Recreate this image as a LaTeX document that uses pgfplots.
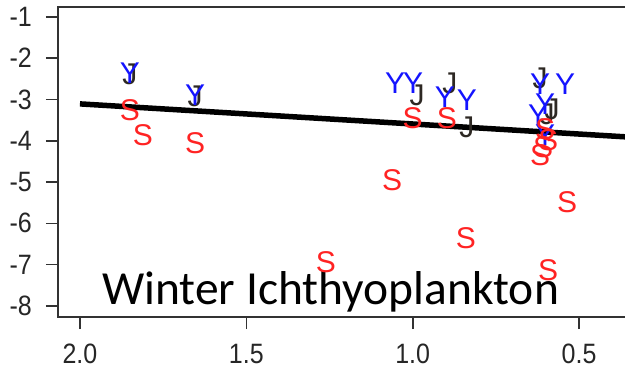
\documentclass[border=0pt]{standalone}
\usepackage{pgfplots}
\pgfplotsset{compat=1.18}
\usepackage{fontspec}
\setmainfont{Liberation Sans}
\newfontfamily\carlito{Carlito}

\definecolor{sred}{RGB}{255,35,35}
\definecolor{yblue}{RGB}{20,20,255}
\definecolor{jdark}{RGB}{45,40,35}
\definecolor{spine}{RGB}{50,50,50}

\begin{document}
\begin{tikzpicture}
\begin{axis}[
  at={(0,0)}, anchor=south west,
  scale only axis,
  width=573pt, height=310pt,
  x dir=reverse,
  xmin=0.344, xmax=2.066,
  ymin=-8.27, ymax=-0.76,
  axis line style={spine, line width=1.6pt},
  xtick={0.5,1.0,1.5,2.0},
  ytick={-8,-7,-6,-5,-4,-3,-2,-1},
  tick align=outside,
  major tick length=12pt,
  tick style={spine, line width=1.6pt},
  xtick pos=bottom, ytick pos=left,
  /pgf/number format/assume math mode=true,
  x tick label style={/pgf/number format/fixed, /pgf/number format/fixed zerofill,
    /pgf/number format/precision=1, anchor=north, inner sep=0pt, yshift=-13pt},
  ticklabel style={font=\fontsize{25}{25}\selectfont, text=black!85, yscale=1.12},
  y tick label style={anchor=east, inner sep=0pt, xshift=-14pt},
  clip=true,
]
% fitted regression line
\addplot[black, line width=5.5pt, line cap=butt] coordinates {(2.0,-3.107) (0.30,-3.935)};

% J samples
\addplot[jdark, only marks, mark=text, text mark=J, text mark as node=true,
  text mark style={font=\fontsize{30}{30}\selectfont, inner sep=0pt}] coordinates {
  (1.850,-2.40) (1.654,-2.93) (0.987,-2.889) (0.888,-2.598) (0.837,-3.663)
  (0.617,-2.477) (0.581,-3.228) (0.596,-3.37)
};

% Y samples
\addplot[yblue, only marks, mark=text, text mark=Y, text mark as node=true,
  text mark style={font=\fontsize{30}{30}\selectfont, inner sep=0pt}] coordinates {
  (1.850,-2.356) (1.654,-2.889) (1.053,-2.598) (0.999,-2.598) (0.903,-2.937)
  (0.837,-3.010) (0.617,-2.622) (0.542,-2.622) (0.602,-3.107) (0.623,-3.373)
  (0.602,-3.857)
};

% S samples
\addplot[sred, only marks, mark=text, text mark=S, text mark as node=true,
  text mark style={font=\fontsize{30}{30}\selectfont, inner sep=0pt}] coordinates {
  (1.850,-3.252) (1.811,-3.857) (1.654,-4.051) (1.000,-3.446) (0.897,-3.446)
  (0.602,-3.712) (0.593,-3.978) (0.608,-4.148) (0.617,-4.341)
  (1.062,-4.947) (0.536,-5.479) (0.840,-6.351) (1.261,-6.932) (0.593,-7.126)
};

\node[anchor=base west, inner sep=0pt, font=\carlito\fontsize{47.5}{47.5}\selectfont]
  at (axis cs:1.934,-7.973) {Winter Ichthyoplankton};
\end{axis}
\pgfresetboundingbox
\path[use as bounding box] (-58pt,-51pt) rectangle (567pt,317pt);
\end{tikzpicture}
\end{document}
